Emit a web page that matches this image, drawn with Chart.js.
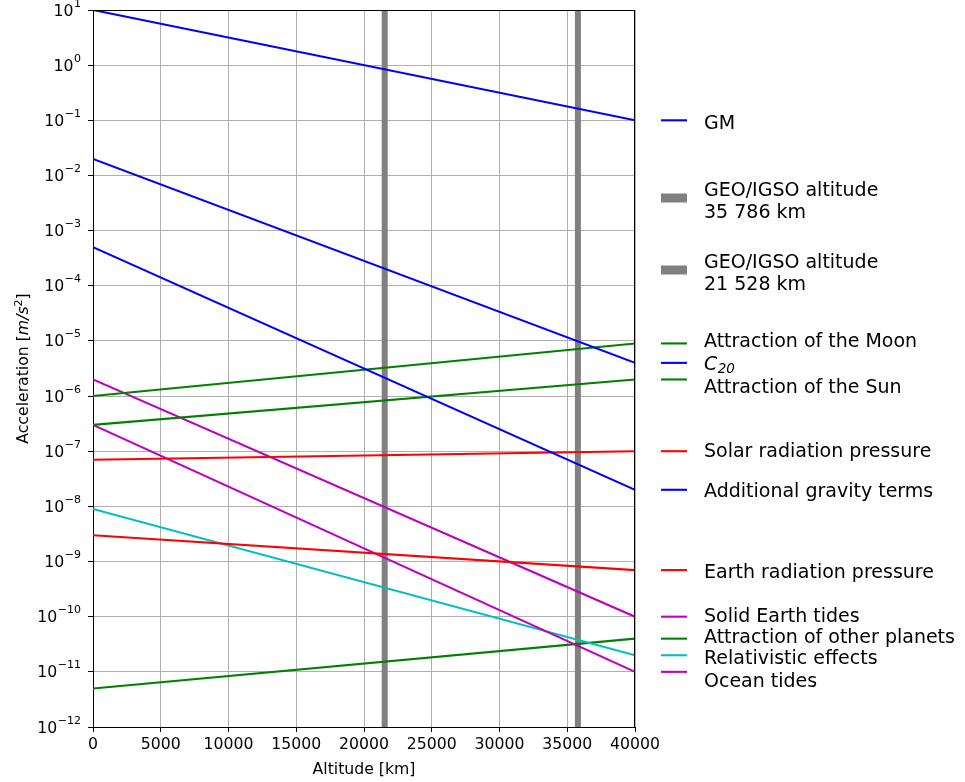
<!DOCTYPE html>
<html>
<head>
<meta charset="utf-8">
<script src="https://cdn.jsdelivr.net/npm/chart.js@4.4.1/dist/chart.umd.min.js"></script>
<style>
  html, body { margin: 0; padding: 0; background: #fff; }
  #wrap { width: 965px; height: 782px; }
</style>
</head>
<body>
<div id="wrap"><canvas id="chart" width="965" height="782"></canvas></div>
<script>
// altitude range [km] and the magnitude of each force at both ends [m/s^2]
const altitudes = [0, 40000];
const gm = [10, 0.1];
const c20 = [2e-2, 4e-6];
const extraGravity = [5e-4, 2e-8];
const moon = [1e-6, 9e-6];
const sun = [3e-7, 2e-6];
const solarPressure = [7e-8, 1e-7];
const earthPressure = [3e-9, 7e-10];
const solidTides = [2e-6, 1e-10];
const oceanTides = [3e-7, 1e-11];
const relativity = [9e-9, 2e-11];
const planets = [5e-12, 4e-11];
const geoAltitudes = [35786, 21528];

const xTicks = [0, 5000, 10000, 15000, 20000, 25000, 30000, 35000, 40000];
const yExponents = [-12, -11, -10, -9, -8, -7, -6, -5, -4, -3, -2, -1, 0, 1];

const FONT = "'DejaVu Sans', sans-serif";

function pts(vals) {
    return altitudes.map((x, i) => ({ x: x, y: vals[i] }));
}

function band(alt) {
    return [{ x: alt, y: 1e-12 }, { x: alt, y: 10 }];
}

const series = {
    gm:       { data: gm, color: '#0000ff' },
    c20:      { data: c20, color: '#0000ff' },
    extra:    { data: extraGravity, color: '#0000ff' },
    moon:     { data: moon, color: '#008000' },
    sun:      { data: sun, color: '#008000' },
    srp:      { data: solarPressure, color: '#ff0000' },
    erp:      { data: earthPressure, color: '#ff0000' },
    solid:    { data: solidTides, color: '#bf00bf' },
    ocean:    { data: oceanTides, color: '#bf00bf' },
    rel:      { data: relativity, color: '#00bfbf' },
    planets:  { data: planets, color: '#008000' }
};

// legend text, baseline position of each text line (layout only)
const legendEntries = [
    { key: 'gm', lines: ['GM'], base: [129] },
    { band: 0, lines: ['GEO/IGSO altitude', '35 786 km'], base: [196, 218], handleY: 198 },
    { band: 1, lines: ['GEO/IGSO altitude', '21 528 km'], base: [268, 290], handleY: 270 },
    { key: 'moon', lines: ['Attraction of the Moon'], base: [347] },
    { key: 'c20', lines: ['C20'], base: [370], math: true },
    { key: 'sun', lines: ['Attraction of the Sun'], base: [393] },
    { key: 'srp', lines: ['Solar radiation pressure'], base: [457] },
    { key: 'extra', lines: ['Additional gravity terms'], base: [497] },
    { key: 'erp', lines: ['Earth radiation pressure'], base: [578] },
    { key: 'solid', lines: ['Solid Earth tides'], base: [622] },
    { key: 'planets', lines: ['Attraction of other planets'], base: [643] },
    { key: 'rel', lines: ['Relativistic effects'], base: [664] },
    { key: 'ocean', lines: ['Ocean tides'], base: [687] }
];

const datasets = [];
Object.keys(series).forEach(k => {
    datasets.push({
        label: k,
        data: pts(series[k].data),
        borderColor: series[k].color,
        borderWidth: 2.1,
        pointRadius: 0,
        tension: 0,
        order: 0
    });
});
geoAltitudes.forEach((a, i) => {
    datasets.push({
        label: 'geo' + i,
        data: band(a),
        borderColor: '#808080',
        borderWidth: 6,
        pointRadius: 0,
        order: 1
    });
});

const decor = {
    id: 'decor',
    afterDraw(chart) {
        const ctx = chart.ctx;
        const area = chart.chartArea;
        const ys = chart.scales.y;
        ctx.save();

        // top and right spines
        ctx.strokeStyle = '#000';
        ctx.lineWidth = 1;
        ctx.beginPath();
        ctx.moveTo(area.left, Math.round(area.top) + 0.5);
        ctx.lineTo(area.right, Math.round(area.top) + 0.5);
        ctx.moveTo(Math.round(area.right) - 0.5, area.top);
        ctx.lineTo(Math.round(area.right) - 0.5, area.bottom);
        ctx.stroke();

        // y tick labels 10^n
        ctx.fillStyle = '#000';
        ctx.textAlign = 'right';
        ctx.textBaseline = 'alphabetic';
        yExponents.forEach(e => {
            const y = ys.getPixelForValue(Math.pow(10, e));
            const expText = String(e).replace('-', '\u2212');
            ctx.font = '11px ' + FONT;
            const w = ctx.measureText(expText).width;
            ctx.fillText(expText, 81, y - 3.5);
            ctx.font = '15.7px ' + FONT;
            ctx.fillText('10', 81 - w - 0.5, y + 5.5);
        });

        // x axis title
        ctx.textAlign = 'center';
        ctx.font = '15.7px ' + FONT;
        ctx.fillText('Altitude [km]', (area.left + area.right) / 2, 774);

        // y axis title, rotated
        ctx.save();
        ctx.translate(28, (area.top + area.bottom) / 2);
        ctx.rotate(-Math.PI / 2);
        const parts = [
            { t: 'Acceleration [', f: '15.7px ' + FONT, dy: 0 },
            { t: 'm/s', f: 'italic 15.7px ' + FONT, dy: 0 },
            { t: '2', f: '11px ' + FONT, dy: -6 },
            { t: ']', f: '15.7px ' + FONT, dy: 0 }
        ];
        let total = 0;
        parts.forEach(p => { ctx.font = p.f; p.w = ctx.measureText(p.t).width; total += p.w; });
        let px = -total / 2;
        ctx.textAlign = 'left';
        parts.forEach(p => { ctx.font = p.f; ctx.fillText(p.t, px, p.dy); px += p.w; });
        ctx.restore();

        // legend
        ctx.textAlign = 'left';
        legendEntries.forEach(en => {
            if (en.band !== undefined) {
                ctx.fillStyle = '#808080';
                ctx.fillRect(661, en.handleY - 4.5, 26, 9);
            } else {
                const s = series[en.key];
                const hy = ys.getPixelForValue(s.data[s.data.length - 1]);
                ctx.strokeStyle = s.color;
                ctx.lineWidth = 2.1;
                ctx.beginPath();
                ctx.moveTo(661, hy);
                ctx.lineTo(687, hy);
                ctx.stroke();
            }
            ctx.fillStyle = '#000';
            en.lines.forEach((line, i) => {
                if (en.math) {
                    ctx.font = 'italic 19px ' + FONT;
                    ctx.fillText('C', 704, en.base[i]);
                    const cw = ctx.measureText('C').width;
                    ctx.font = 'italic 13.5px ' + FONT;
                    ctx.fillText('20', 704 + cw + 0.5, en.base[i] + 3);
                } else {
                    ctx.font = '19px ' + FONT;
                    ctx.fillText(line, 704, en.base[i]);
                }
            });
        });
        ctx.restore();
    }
};

new Chart(document.getElementById('chart').getContext('2d'), {
    type: 'line',
    data: { datasets: datasets },
    options: {
        responsive: false,
        animation: false,
        devicePixelRatio: 1,
        layout: { padding: { top: 10, right: 330, bottom: 0, left: 0 } },
        plugins: {
            legend: { display: false },
            tooltip: { enabled: false },
            title: { display: false }
        },
        scales: {
            x: {
                type: 'linear',
                min: 0,
                max: 40000,
                afterBuildTicks: scale => { scale.ticks = xTicks.map(v => ({ value: v })); },
                afterFit: scale => { scale.height = 55; },
                ticks: {
                    color: '#000',
                    font: { family: FONT, size: 15.7 },
                    padding: 4,
                    maxRotation: 0,
                    autoSkip: false,
                    callback: v => String(v)
                },
                grid: { color: '#b0b0b0', lineWidth: 1, tickColor: '#000', tickLength: 5 },
                border: { display: true, color: '#000', width: 1 }
            },
            y: {
                type: 'logarithmic',
                min: 1e-12,
                max: 10,
                afterBuildTicks: scale => { scale.ticks = yExponents.map(e => ({ value: Math.pow(10, e) })); },
                afterFit: scale => { scale.width = 93; scale.paddingTop = 0; scale.paddingBottom = 0; },
                ticks: { callback: () => '', font: { family: FONT, size: 1 } },
                grid: { color: '#b0b0b0', lineWidth: 1, tickColor: '#000', tickLength: 5 },
                border: { display: true, color: '#000', width: 1 }
            }
        }
    },
    plugins: [decor]
});
</script>
</body>
</html>
